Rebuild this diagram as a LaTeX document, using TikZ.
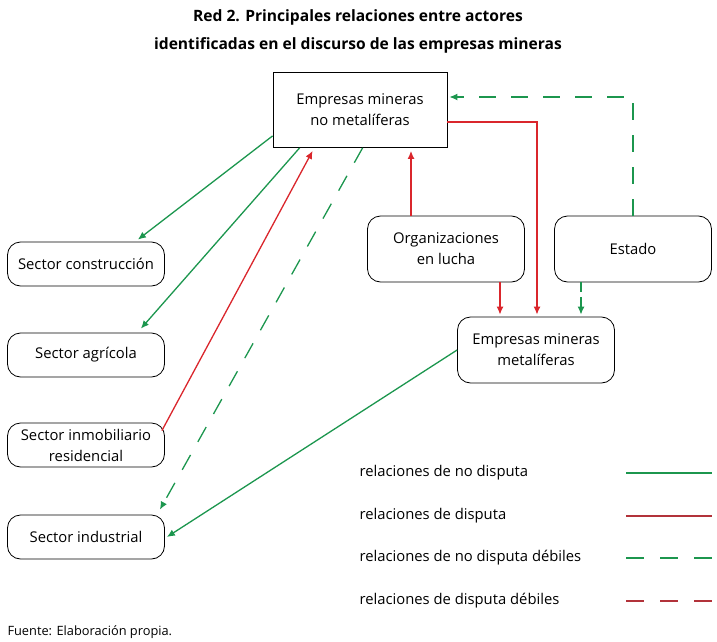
\documentclass[tikz,border=0pt]{standalone}
\usepackage{fontspec}
\setmainfont{Open Sans}
\usepackage{xcolor}
\usepackage{tikz}
\usetikzlibrary{positioning, arrows.meta, calc}
\definecolor{verde}{RGB}{28,150,78}
\definecolor{rojo}{RGB}{218,38,44}
\definecolor{rojoleg}{RGB}{178,50,58}

\begin{document}
\begin{tikzpicture}[x=1pt, y=-1pt,
          every node/.style={font=\fontsize{14.8}{21}\selectfont, align=center},
          actor/.style={draw, line width=0.8pt, rounded corners=13pt, minimum width=157pt, minimum height=44pt, inner sep=1pt},
          nodisputa/.style={draw=verde, line width=1.3pt, -{Latex[length=8pt,width=7pt]}},
          disputa/.style={draw=rojo, line width=1.3pt, -{Latex[length=8pt,width=7pt]}},
          debil/.style={dash pattern=on 17pt off 15pt}]
          \useasboundingbox (0,0) rectangle (717,642);

          \node[font=\fontsize{15.6}{28}\selectfont\bfseries] (titulo) at (358,31) {Red 2. Principales relaciones entre actores\\identificadas en el discurso de las empresas mineras};

          \node[draw, line width=0.8pt, minimum width=174pt, minimum height=75pt, inner sep=1pt] (nometal) at (360,110) {Empresas mineras\\no metalíferas};
          \node[actor] (construccion) at (86,264) {Sector construcción};
          \node[actor] (agricola) at (86,355) {Sector agrícola};
          \node[actor] (inmobiliario) at (86,445) {Sector inmobiliario\\residencial};
          \node[actor] (industrial) at (86,537) {Sector industrial};
          \node[actor, minimum height=66pt] (organizaciones) at (446,249) {Organizaciones\\en lucha};
          \node[actor, minimum height=66pt] (estado) at (633,249) {Estado};
          \node[actor, minimum height=66pt] (metal) at (536,350) {Empresas mineras\\metalíferas};

          \draw[nodisputa] ($(nometal.south west)+(0,-12)$) -- ($(construccion.north east)+(-27,-2)$);
          \draw[nodisputa] ($(nometal.south west)+(27,0)$) -- ($(agricola.north east)+(-24,-4)$);
          \draw[disputa] ($(inmobiliario.north east)+(-3,8)$) -- ($(nometal.south west)+(40,3)$);
          \draw[nodisputa, debil] ($(nometal.south west)+(90,0)$) -- ($(industrial.north east)+(-5,-5)$);
          \draw[disputa] ($(organizaciones.north)+(-35,0)$) -- ($(nometal.south)+(51,3)$);
          \draw[disputa] ($(nometal.east)+(0,12)$) -| ($(metal.north)+(1,-2)$);
          \draw[nodisputa, debil] (estado.north) |- ($(nometal.east)+(2,-13)$);
          \coordinate (o1) at ($(organizaciones.south)+(54,0)$);
          \draw[disputa] (o1) -- ($(o1 |- metal.north)+(0,-2)$);
          \coordinate (e1) at ($(estado.south)+(-52,0)$);
          \draw[nodisputa, dash pattern=on 10pt off 5pt] (e1) -- ($(e1 |- metal.north)+(0,-2)$);
          \draw[nodisputa] (metal.west) -- ($(industrial.east)+(2,0)$);

          % leyenda
          \node[anchor=west] (l1) at (356,473) {relaciones de no disputa};
          \node[anchor=west] (l2) at (356,516) {relaciones de disputa};
          \node[anchor=west] (l3) at (356,558) {relaciones de no disputa débiles};
          \node[anchor=west] (l4) at (356,601) {relaciones de disputa débiles};
          \draw[verde, line width=1.5pt] (626,473) -- (712,473);
          \draw[rojoleg, line width=1.5pt] (626,516) -- (712,516);
          \draw[verde, line width=1.5pt, dash pattern=on 18pt off 16pt] (626,558) -- (712,558);
          \draw[rojoleg, line width=1.5pt, dash pattern=on 18pt off 16pt] (626,601) -- (712,601);

          \node[anchor=west, font=\fontsize{12.8}{15}\selectfont] (fuente) at (4,632) {Fuente: Elaboración propia.};
        \end{tikzpicture}
\end{document}
